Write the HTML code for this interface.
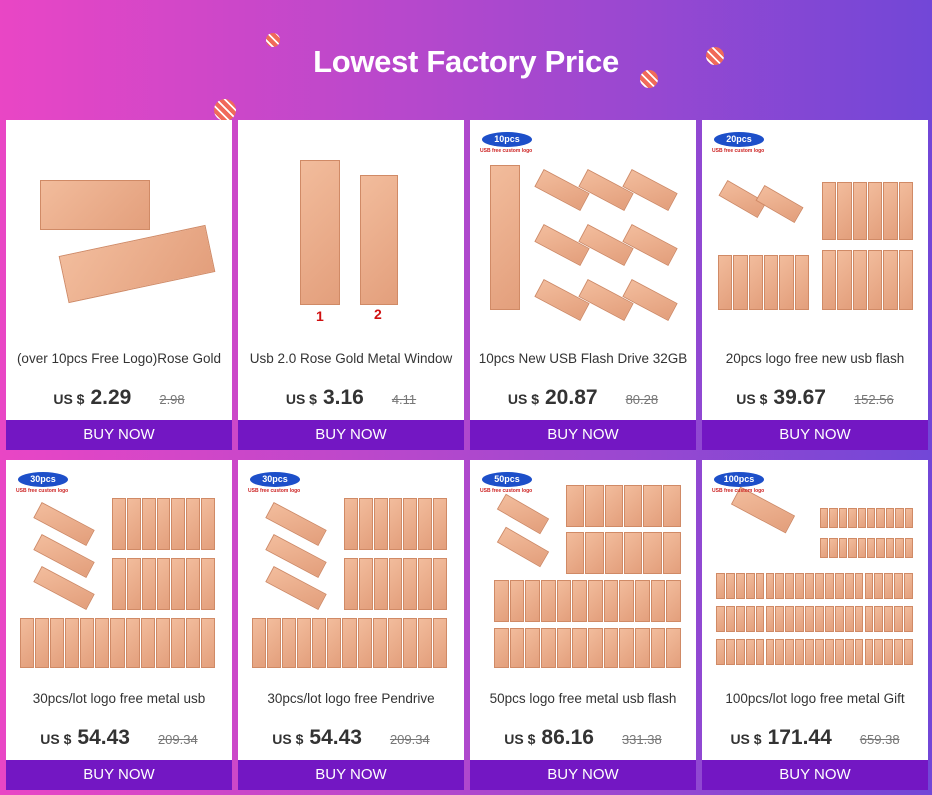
<!DOCTYPE html>
<html><head><meta charset="utf-8">
<style>
*{margin:0;padding:0;box-sizing:border-box}
body{width:932px;height:795px;overflow:hidden;background:linear-gradient(90deg,#e946c5 0%,#b548cc 45%,#7247d7 100%);font-family:"Liberation Sans",sans-serif;position:relative}
h1{position:absolute;left:0;width:932px;top:44px;text-align:center;color:#fff;font-size:31px;font-weight:bold;letter-spacing:-0.3px}
.ball{position:absolute;border-radius:50%;background:repeating-linear-gradient(45deg,#f06a5a 0 4px,#fff 4px 6px)}
.card{position:absolute;width:226px;height:330px;background:#fff}
.img{position:absolute;left:0;top:0;width:226px;height:215px;overflow:hidden}
.r{position:absolute;background:linear-gradient(135deg,#f2bc9c,#e39f7c);border:1px solid #d08a66}
.title{position:absolute;top:231px;left:0;width:226px;text-align:center;font-size:13.5px;color:#333;white-space:nowrap;overflow:hidden}
.price{position:absolute;top:266px;left:0;width:226px;text-align:center;color:#333;white-space:nowrap}
.price .cur{font-size:14px;font-weight:bold;margin-right:6px}
.price .val{font-size:21px;font-weight:bold;margin-right:28px}
.price .old{font-size:13px;color:#777;text-decoration:line-through}
.buy{position:absolute;left:0;top:300px;width:226px;height:30px;background:#7317c3;color:#fff;text-align:center;line-height:30px;font-size:15px}
.badge{position:absolute;left:12px;top:12px;width:50px;height:15px;border-radius:50%;background:#1d4fc9;color:#fff;font-size:9px;font-weight:bold;text-align:center;line-height:15px}
.bsub{position:absolute;left:10px;top:28px;font-size:5px;color:#c22;font-weight:bold}
.num{position:absolute;color:#d01010;font-size:14px;font-weight:bold}
</style></head><body>
<h1>Lowest Factory Price</h1>
<div class="ball" style="left:266px;top:33px;width:14px;height:14px"></div>
<div class="ball" style="left:706px;top:47px;width:18px;height:18px"></div>
<div class="ball" style="left:640px;top:70px;width:18px;height:18px"></div>
<div class="ball" style="left:214px;top:99px;width:22px;height:22px"></div>
<div id="grid"></div>
<script>
const titles=["(over 10pcs Free Logo)Rose Gold","Usb 2.0 Rose Gold Metal Window","10pcs New USB Flash Drive 32GB","20pcs logo free new  usb flash","30pcs/lot logo free metal usb","30pcs/lot logo free Pendrive","50pcs logo free metal usb flash","100pcs/lot logo free metal Gift"];
const prices=["2.29","3.16","20.87","39.67","54.43","54.43","86.16","171.44"];
const oldPrices=["2.98","4.11","80.28","152.56","209.34","209.34","331.38","659.38"];
const badges=[null,null,"10pcs","20pcs","30pcs","30pcs","50pcs","100pcs"];
function R(img,x,y,w,h,rot){const d=document.createElement('div');d.className='r';


d.style.cssText=`left:${x}px;top:${y}px;width:${w}px;height:${h}px;`+(rot?`transform:rotate(${rot}deg)`:'');img.appendChild(d);}
function G(img,x,y,w,h,n){const cw=w/n;for(let i=0;i<n;i++)R(img,x+i*cw,y,cw-1,h,0);}
const layouts=[
 img=>{R(img,34,60,110,50,0);R(img,56,120,150,48,-12);},
 img=>{R(img,62,40,40,145,0);R(img,122,55,38,130,0);},
 img=>{R(img,20,45,30,145,0);for(let r=0;r<3;r++)for(let c=0;c<3;c++)R(img,66+c*44,60+r*55,52,20,28);},
 img=>{R(img,18,70,45,18,30);R(img,55,75,45,18,30);G(img,120,62,92,58,6);G(img,16,135,92,55,6);G(img,120,130,92,60,6);},
 img=>{for(let i=0;i<3;i++)R(img,28,55+i*32,60,18,28);G(img,106,38,104,52,7);G(img,106,98,104,52,7);G(img,14,158,196,50,13);},
 img=>{for(let i=0;i<3;i++)R(img,28,55+i*32,60,18,28);G(img,106,38,104,52,7);G(img,106,98,104,52,7);G(img,14,158,196,50,13);},
 img=>{R(img,28,45,50,18,30);R(img,28,78,50,18,30);G(img,96,25,116,42,6);G(img,96,72,116,42,6);G(img,24,120,188,42,12);G(img,24,168,188,40,12);},
 img=>{R(img,30,40,62,20,28);G(img,118,48,94,20,10);G(img,118,78,94,20,10);G(img,14,113,198,26,20);G(img,14,146,198,26,20);G(img,14,179,198,26,20);}
];
const grid=document.getElementById('grid');
for(let i=0;i<8;i++){
 const c=document.createElement('div');c.className='card';
 
 
 c.style.left=(6+(i%4)*232)+'px';c.style.top=(120+Math.floor(i/4)*340)+'px';
 const img=document.createElement('div');img.className='img';
 
 
 layouts[i](img);
 if(i==1){const n1=document.createElement('div');n1.className='num';n1.textContent='1';n1.style.cssText='left:78px;top:188px';
 
 
 img.appendChild(n1);
 const n2=document.createElement('div');n2.className='num';n2.textContent='2';n2.style.cssText='left:136px;top:186px';
 
 
 img.appendChild(n2);}
 if(badges[i]){const b=document.createElement('div');b.className='badge';b.textContent=badges[i];
 
 
 img.appendChild(b);
 const s=document.createElement('div');s.className='bsub';s.textContent='USB free custom logo';
 
 
 img.appendChild(s);}
 c.appendChild(img);
 const t=document.createElement('div');t.className='title';t.textContent=titles[i];
 
 
 c.appendChild(t);
 const p=document.createElement('div');p.className='price';
 
 
 p.innerHTML=`<span class="cur">US $</span><span class="val">${prices[i]}</span><span class="old">${oldPrices[i]}</span>`;
 c.appendChild(p);
 const btn=document.createElement('div');btn.className='buy';btn.textContent='BUY NOW';
 
 
 c.appendChild(btn);
 grid.appendChild(c);
}
</script>
</body></html>
